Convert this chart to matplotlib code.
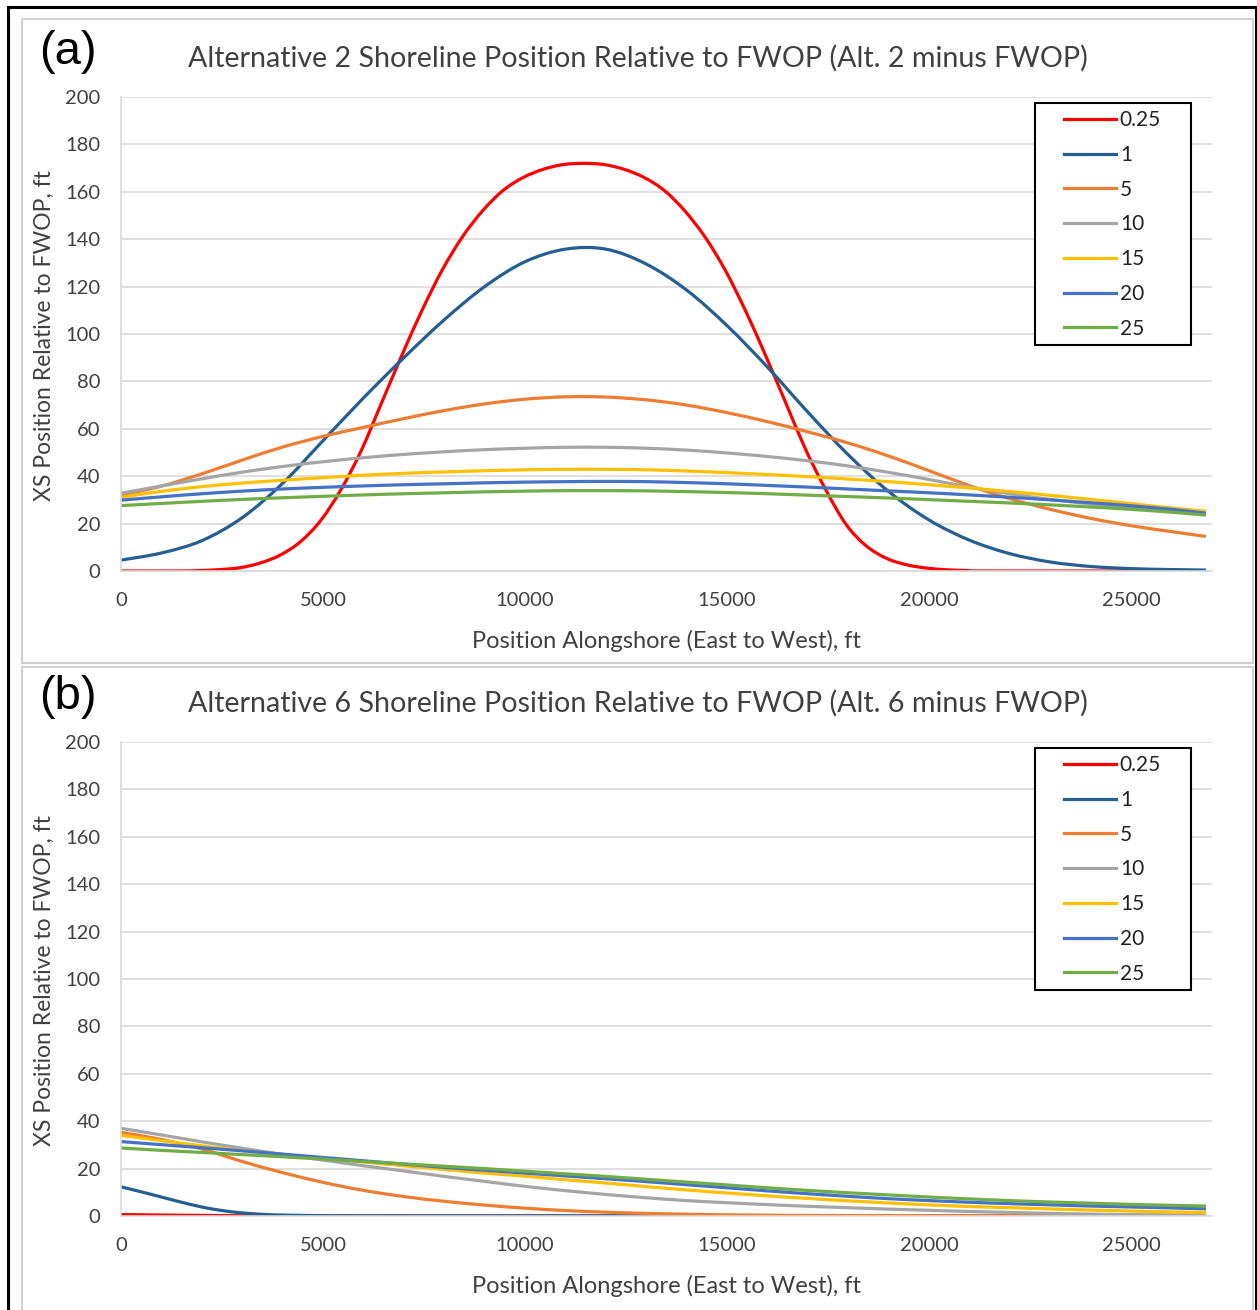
import matplotlib
matplotlib.use("Agg")
import matplotlib.pyplot as plt
from matplotlib.patches import Rectangle, PathPatch
from matplotlib.path import Path
from matplotlib.lines import Line2D

plt.rcParams["font.family"] = ["Lato", "DejaVu Sans"]

W, H = 1257, 1310

# ---- data ----
POS = [0, 1000, 2000, 3000, 4000, 5000, 6000, 7000, 8000, 9000, 10000,
       11000, 12000, 13000, 14000, 15000, 16000, 17000, 18000, 19000, 20000,
       21000, 22000, 23000, 24000, 25000, 26000, 26850]

# panel (a): Alt. 2 minus FWOP
a_pos_025 = [0, 1450, 1950, 2450, 2950, 3450, 3950, 4450, 4950, 5450, 5950,
             6450, 6950, 7450, 7950, 8450, 8950, 9450, 9950, 10450, 10950,
             11450, 11950, 12450, 12950, 13450, 13950, 14450, 14950, 15450,
             15950, 16450, 16950, 17450, 17950, 18450, 18950, 19450, 19950,
             20450, 20950, 21450, 26850]
a_025 = [0, 0, 0.2, 0.6, 1.4, 3.4, 6.8, 12.5, 21.5, 34.5, 51,
         71, 91, 110, 127, 141, 152, 160.5, 166, 169.5, 171.5,
         172, 171.5, 169.5, 166, 160.5, 152, 141, 127, 110,
         91, 71, 51, 34, 19.5, 10.5, 5.3, 2.6, 1.2,
         0.5, 0.2, 0, 0]
a_1 = [4.6, 7.6, 12.8, 22.5, 37, 55, 73, 90, 106, 120, 130.5,
       135.8, 135.8, 129.5, 118.5, 103.5, 86, 67, 49, 33.5, 21.5,
       13, 7.3, 3.8, 1.9, 1.0, 0.6, 0.4]
a_5 = [32, 35.8, 41, 46.8, 52.3, 56.8, 60.6, 64.3, 67.7, 70.5, 72.5,
       73.5, 73.4, 72.2, 70, 66.8, 63, 58.7, 54, 48.5, 42.3,
       36, 30.5, 26, 22.2, 19.1, 16.6, 14.6]
a_10 = [32.8, 35.9, 38.9, 41.7, 44.1, 46.1, 47.8, 49.2, 50.3, 51.2, 51.8,
        52.2, 52.2, 51.8, 51, 49.8, 48.3, 46.5, 44.3, 41.6, 38.6,
        35.4, 32.6, 30.2, 28.3, 26.6, 25.5, 24.8]
a_15 = [31.1, 33.6, 35.6, 37.1, 38.3, 39.4, 40.4, 41.2, 41.8, 42.3, 42.7,
        42.9, 42.9, 42.7, 42.2, 41.5, 40.7, 39.8, 38.8, 37.7, 36.4,
        35, 33.5, 31.9, 30.2, 28.4, 26.6, 25.2]
a_20 = [29.9, 31.3, 32.6, 33.7, 34.6, 35.3, 35.9, 36.4, 36.8, 37.2, 37.5,
        37.7, 37.8, 37.7, 37.3, 36.8, 36.1, 35.4, 34.6, 33.8, 33,
        32.1, 31.1, 30, 28.8, 27.5, 26, 24.4]
a_25 = [27.6, 28.5, 29.4, 30.2, 30.9, 31.5, 32.1, 32.6, 33, 33.4, 33.7,
        33.9, 33.9, 33.8, 33.5, 33.1, 32.6, 32, 31.4, 30.8, 30.1,
        29.4, 28.7, 27.9, 27, 26, 24.8, 23.6]

# panel (b): Alt. 6 minus FWOP
b_pos_short = [0, 500, 1000, 1500, 2000, 2500, 3000, 3500, 4000, 5000, 6000,
               10000, 20000, 26850]
b_025 = [0.6, 0.5, 0.4, 0.32, 0.25, 0.18, 0.1, 0.07, 0.05, 0, 0,
         0, 0, 0]
b_1 = [12.3, 10.2, 8, 5.8, 3.8, 2.3, 1.3, 0.7, 0.4, 0.15, 0.1,
       0.08, 0.05, 0.05]
b_5 = [35.3, 32.3, 28.3, 23, 18.3, 14.2, 10.8, 8.2, 6.2, 4.6, 3.3,
       2.3, 1.6, 1.1, 0.75, 0.5, 0.35, 0.25, 0.2, 0.18, 0.15,
       0.13, 0.12, 0.11, 0.1, 0.1, 0.1, 0.1]
b_10 = [37, 34.2, 31.3, 28.6, 26, 23.6, 21.2, 19, 16.7, 14.6, 12.5,
        10.7, 9.1, 7.7, 6.5, 5.6, 4.8, 4.1, 3.5, 2.9, 2.4,
        1.9, 1.5, 1.1, 0.8, 0.6, 0.5, 0.4]
b_15 = [34, 31.8, 29.6, 27.6, 25.9, 24.3, 22.8, 21.2, 19.6, 18.1, 16.8,
        15.3, 13.9, 12.4, 11, 9.7, 8.5, 7.4, 6.4, 5.5, 4.7,
        4, 3.5, 3, 2.5, 2.1, 1.7, 1.4]
b_20 = [31.4, 30.1, 28.8, 27.5, 26.1, 24.7, 23.3, 21.9, 20.5, 19.3, 18.1,
        16.9, 15.7, 14.5, 13.2, 11.9, 10.6, 9.4, 8.3, 7.3, 6.5,
        5.8, 5.2, 4.7, 4.2, 3.8, 3.4, 3.0]
b_25 = [28.7, 27.7, 26.8, 25.9, 25, 24, 23, 22, 21, 20, 18.9,
        17.8, 16.7, 15.5, 14.3, 13.1, 11.9, 10.8, 9.8, 8.9, 8,
        7.2, 6.5, 5.9, 5.4, 4.9, 4.5, 4.2]

LABELS = ["0.25", "1", "5", "10", "15", "20", "25"]
COLORS = ["#FF0000", "#255E91", "#ED7D31", "#A5A5A5", "#FFC000", "#4472C4", "#70AD47"]
TITLES = ["Alternative 2 Shoreline Position Relative to FWOP (Alt. 2 minus FWOP)",
          "Alternative 6 Shoreline Position Relative to FWOP (Alt. 6 minus FWOP)"]
PANEL_TAGS = ["(a)", "(b)"]

TXT = "#404040"
GRID = "#D9D9D9"


def fx(px):
    return px / W


def fy(py):
    return 1 - py / H


def smooth_path(x, y):
    # Excel-style "smoothed line": cubic Bezier segments through the points
    n = len(x)
    verts = [(x[0], y[0])]
    codes = [Path.MOVETO]
    for i in range(n - 1):
        i0 = max(i - 1, 0)
        i3 = min(i + 2, n - 1)
        c1 = (x[i] + (x[i + 1] - x[i0]) / 6, y[i] + (y[i + 1] - y[i0]) / 6)
        c2 = (x[i + 1] - (x[i3] - x[i]) / 6, y[i + 1] - (y[i3] - y[i]) / 6)
        verts += [c1, c2, (x[i + 1], y[i + 1])]
        codes += [Path.CURVE4] * 3
    return Path(verts, codes)


fig = plt.figure(figsize=(W / 100, H / 100), dpi=100)
fig.patch.set_facecolor("white")

# outer black frame and grey panel frames
fig.patches.append(Rectangle((fx(8), fy(1330)), fx(1256) - fx(8), fy(7) - fy(1330),
                             transform=fig.transFigure, fill=False, ec="black", lw=2.2))
fig.patches.append(Rectangle((fx(22), fy(663)), fx(1253) - fx(22), fy(19) - fy(663),
                             transform=fig.transFigure, fill=False, ec="#D0D0D0", lw=1.5))
fig.patches.append(Rectangle((fx(22), fy(1330)), fx(1253) - fx(22), fy(667) - fy(1330),
                             transform=fig.transFigure, fill=False, ec="#D0D0D0", lw=1.5))

panels = [
    ([a_pos_025] + [POS] * 6, [a_025, a_1, a_5, a_10, a_15, a_20, a_25]),
    ([b_pos_short, b_pos_short] + [POS] * 5, [b_025, b_1, b_5, b_10, b_15, b_20, b_25]),
]

for k, (xs, ys) in enumerate(panels):
    off = 645 * k
    ax = fig.add_axes([fx(121), fy(571 + off), fx(1212) - fx(121), fy(97) - fy(571)])
    for x, y, c in zip(xs, ys, COLORS):
        ax.add_patch(PathPatch(smooth_path(x, y), fill=False, ec=c, lw=2.3,
                               capstyle="butt", joinstyle="round", zorder=2))
    ax.set_xlim(0, 27000)
    ax.set_ylim(0, 200)
    ax.set_xticks(range(0, 27000, 5000))
    ax.set_yticks(range(0, 201, 20))
    ax.tick_params(length=0, labelsize=14.5, labelcolor=TXT, pad=15)
    ax.grid(axis="y", color=GRID, lw=1.2)
    ax.set_axisbelow(True)
    for s in ["top", "right"]:
        ax.spines[s].set_visible(False)
    for s in ["left", "bottom"]:
        ax.spines[s].set_color(GRID)
        ax.spines[s].set_linewidth(1.2)

    # legend box
    box = Rectangle(((1035 - 121) / 1091, (571 - 345) / 474), 156 / 1091, 242 / 474,
                    transform=ax.transAxes, fc="white", ec="black", lw=1.5, zorder=4)
    ax.add_patch(box)
    handles = [Line2D([], [], color=c, lw=2.3) for c in COLORS]
    leg = ax.legend(handles, LABELS, loc="upper left",
                    bbox_to_anchor=(fx(1064), fy(110 + off)), bbox_transform=fig.transFigure,
                    frameon=False, borderpad=0, borderaxespad=0, fontsize=15,
                    handlelength=2.5, handletextpad=0.18, labelspacing=0.71)
    leg.set_zorder(5)
    for t in leg.get_texts():
        t.set_color("#222222")

    fig.text(fx(638), fy(58 + off), TITLES[k], ha="center", va="center",
             fontsize=20.6, color=TXT)
    fig.text(fx(68), fy(52 + off), PANEL_TAGS[k], ha="center", va="center",
             fontsize=34, color="black", family="Liberation Sans")
    fig.text(fx(44), fy(336 + off), "XS Position Relative to FWOP, ft", ha="center",
             va="center", rotation=90, fontsize=16.5, color=TXT)
    fig.text(fx(666), fy(641 + off), "Position Alongshore (East to West), ft",
             ha="center", va="center", fontsize=17, color=TXT)

fig.savefig("out.png", dpi=100)
